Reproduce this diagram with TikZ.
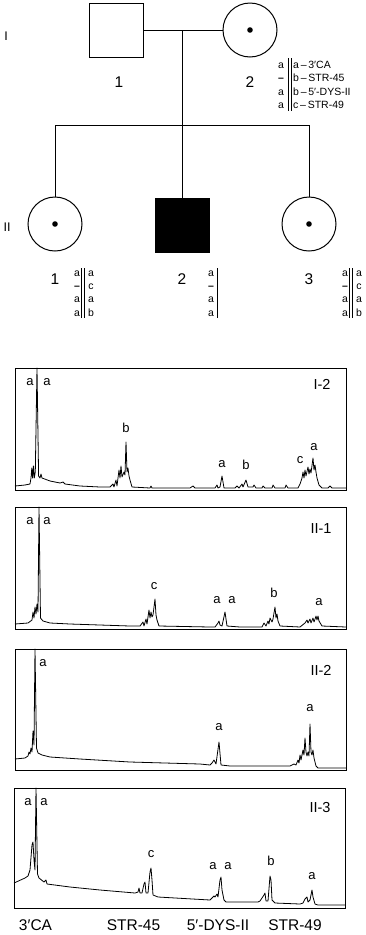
\documentclass[tikz,border=0pt]{standalone}
\usepackage{fontspec}
\setmainfont{Liberation Sans}
\usetikzlibrary{positioning}

\tikzset{
  ped/.style={line width=1pt},
  male/.style={draw, rectangle, minimum size=54pt, inner sep=0pt, line width=1pt},
  female/.style={draw, circle, minimum size=54pt, inner sep=0pt, line width=1pt},
  gen/.style={font=\fontsize{12.5}{12.5}\selectfont, inner sep=0pt},
  num/.style={font=\fontsize{15.5}{15.5}\selectfont, inner sep=0pt},
  hap/.style={font=\fontsize{10.5}{12}\selectfont, inner sep=0pt, anchor=base},
  peak/.style={font=\fontsize{13}{13}\selectfont, inner sep=0pt},
  tag/.style={font=\fontsize{14.5}{14.5}\selectfont, inner sep=0pt},
  locus/.style={font=\fontsize{15.5}{15.5}\selectfont, inner sep=0pt},
  panel/.style={draw, line width=0.9pt},
  trace/.style={line width=0.8pt, line join=round},
}

\begin{document}
\begin{tikzpicture}[x=1pt,y=-1pt]
    \useasboundingbox (0,0) rectangle (366,935);
    % Generation I
    \node[male] (f1) at (116,30) {};
    \node[female] (m2) at (250,30) {};
    \fill (m2.center) circle (2.8pt);
    \node[gen] (g1) at (6,36) {I};
    \node[num] (n11) at (119,82) {1};
    \node[num] (n12) at (250,82) {2};
    % Generation II
    \node[female] (d1) at (55,224) {};
    \node[male, fill=black] (s2) at (182,225) {};
    \node[female] (d3) at (309,224) {};
    \fill (d1.center) circle (2.8pt);
    \fill (d3.center) circle (2.8pt);
    \node[gen] (g2) at (7,227) {II};
    \node[num] (n21) at (55,279) {1};
    \node[num] (n22) at (182,279) {2};
    \node[num] (n23) at (309,279) {3};
    %
    % Pedigree lines:
    \coordinate (mate) at (182,30);
    \coordinate (sib) at (182,125);
    \draw[ped] (f1) -- (m2);
    \draw[ped] (mate) -- (sib);
    \draw[ped] (d1 |- sib) -- (d3 |- sib);
    \foreach \k in {d1,s2,d3} \draw[ped] (\k |- sib) -- (\k.north);
    %
    % Haplotypes
    \foreach \l/\r [count=\i] in {a/{a\,–\,3′CA}, {\textbf{–}}/{b\,–\,STR-45}, a/{b\,–\,5′-DYS-II}, a/{c\,–\,STR-49}} {
      \node[hap] (h2l\i) at (281,54.5+13.5*\i) {\l};
      \node[hap, anchor=base west] (h2r\i) at (293,54.5+13.5*\i) {\r};
    }
    \draw[ped, line width=0.8pt] (288,58) -- (288,111) (291,58) -- (291,111);
    \foreach \l/\r [count=\i] in {a/a, {\textbf{–}}/c, a/a, a/b} {
      \node[hap] (h21l\i) at (77,262.6+13.4*\i) {\l};
      \node[hap] (h21r\i) at (91,262.6+13.4*\i) {\r};
      \node[hap] (h23l\i) at (345,262.6+13.4*\i) {\l};
      \node[hap] (h23r\i) at (359,262.6+13.4*\i) {\r};
      \node[hap] (h22l\i) at (211,262.6+13.4*\i) {\l};
    }
    \draw[ped, line width=0.8pt] (81.5,268) -- (81.5,318) (84.5,268) -- (84.5,318);
    \draw[ped, line width=0.8pt] (349.5,268) -- (349.5,318) (352.5,268) -- (352.5,318);
    \draw[ped, line width=0.8pt] (217,268) -- (217,318);
    %
    % Trace I-2
    \draw[panel] (15,368) rectangle (346,490);
    \draw[trace] plot coordinates {(15,486) (25,485) (30,484) (31,478) (31.8,468) (32.6,478) (33.4,466) (34.3,478) (35.3,472) (37,368)
      (38.6,476) (40,478) (41,474) (42,478) (50,481) (60,483) (63,482) (65,484) (80,486) (100,487) (110,487) (113,484) (114,487)
      (116,480) (117,486) (119,470) (120,478) (121,466) (122,477) (124,472) (125,475) (126,442) (127,472) (128,468) (129,476)
      (130,480) (132,487) (150,488) (151,486) (152,488) (190,488) (193,486) (195,488) (215,488) (217,485) (218,488) (220,487)
      (222,476) (224,488) (235,488) (237,486) (239,488) (242,484) (243,487) (246,480) (248,487) (253,487) (254,485) (256,488)
      (262,488) (263,486) (265,488) (272,488) (273,485) (275,488) (285,488) (286,485) (288,488) (298,488) (300,484) (302,478)
      (303,472) (304,478) (305,470) (306,476) (308,467) (309,474) (310,469) (311,473) (313,458) (314,470) (315,465) (316,472)
      (317,478) (319,485) (322,488) (328,488) (330,486) (332,488) (346,488)};
    \node[tag] (t1) at (322,384) {I-2};
    \node[peak] (p1a) at (30,382) {a};
    \node[peak] (p1b) at (47,382) {a};
    \node[peak] (p1c) at (126,428) {b};
    \node[peak] (p1d) at (222,464) {a};
    \node[peak] (p1e) at (246,465) {b};
    \node[peak] (p1f) at (300,460) {c};
    \node[peak] (p1g) at (314,447) {a};
    %
    % Trace II-1
    \draw[panel] (15,507) rectangle (346,629);
    \draw[trace] plot coordinates {(15,624) (28,623) (32,620) (33,612) (34,618) (35,607) (36,614) (37,604) (38,612) (39,507)
      (40.5,618) (43,621) (50,623) (70,624) (100,625) (130,626) (140,626) (143,622) (144,626) (146,619) (147,624) (149,610)
      (150,618) (151,612) (152,617) (153,615) (155,599) (156,615) (157,620) (159,626) (210,627) (215,627) (218,623) (219,621)
      (220,625) (222,626) (225,612) (227,626) (240,627) (262,627) (264,623) (266,626) (268,621) (269,624) (270,618) (272,622)
      (273,619) (275,607) (276,618) (277,614) (278,621) (280,626) (300,627) (305,623) (307,620) (308,623) (310,619) (311,623)
      (313,618) (314,622) (316,616) (317,620) (318,616) (319,621) (322,626) (346,627)};
    \node[tag] (t2) at (321,529) {II-1};
    \node[peak] (p2a) at (30,521) {a};
    \node[peak] (p2b) at (47,521) {a};
    \node[peak] (p2c) at (154,586) {c};
    \node[peak] (p2d) at (217,600) {a};
    \node[peak] (p2e) at (232,600) {a};
    \node[peak] (p2f) at (274,593) {b};
    \node[peak] (p2g) at (319,602) {a};
    %
    % Trace II-2
    \draw[panel] (15,649) rectangle (346,770);
    \draw[trace] plot coordinates {(15,759) (25,758) (28,756) (29,752) (30,754) (31,748) (32,752) (33,731) (34,745) (35,649)
      (36.5,748) (38,753) (42,755) (50,757) (80,759) (130,762) (200,764) (210,765) (212,763) (214,760) (216,764) (219,742)
      (221,765) (230,766) (290,766) (294,764) (296,765) (298,760) (299,763) (300,755) (301,760) (303,750) (304,755) (305,738)
      (306,752) (307,756) (308,752) (309,756) (310,724) (311,752) (312,755) (313,750) (314,758) (316,766) (318,768) (346,768)};
    \node[tag] (t3) at (321,670) {II-2};
    \node[peak] (p3a) at (43,663) {a};
    \node[peak] (p3b) at (219,727) {a};
    \node[peak] (p3c) at (310,708) {a};
    %
    % Trace II-3
    \draw[panel] (14,788) rectangle (345,908);
    \draw[trace] plot coordinates {(14,883) (25,878) (28,876) (30,870) (32,845) (33,842) (34,860) (35,870) (36,788)
      (37.5,874) (39,878) (44,882) (46,880) (47,884) (70,887) (100,890) (135,893) (138,892) (139,888) (140,893) (142,893)
      (144,884) (145,882) (146,893) (148,893) (150,872) (151,868) (152,880) (153,895) (158,897) (210,900) (212,898) (214,896)
      (215,897) (217,894) (218,897) (220,880) (221,877) (222,890) (224,900) (226,902) (258,902) (260,901) (262,898) (264,895)
      (265,893) (266,901) (268,901) (270,876) (271,880) (272,900) (275,903) (300,904) (303,903) (305,899) (307,897) (308,902)
      (310,900) (312,890) (313,897) (315,904) (318,905) (345,905)};
    \node[tag] (t4) at (320,807) {II-3};
    \node[peak] (p4a) at (28,802) {a};
    \node[peak] (p4b) at (44,802) {a};
    \node[peak] (p4c) at (151,854) {c};
    \node[peak] (p4d) at (213,866) {a};
    \node[peak] (p4e) at (228,866) {a};
    \node[peak] (p4f) at (271,861) {b};
    \node[peak] (p4g) at (312,876) {a};
    %
    % Loci
    \node[locus] (l1) at (35.5,925) {3′CA};
    \node[locus] (l2) at (133.5,925) {STR-45};
    \node[locus] (l3) at (218,925) {5′-DYS-II};
    \node[locus] (l4) at (295,925) {STR-49};
\end{tikzpicture}
\end{document}
